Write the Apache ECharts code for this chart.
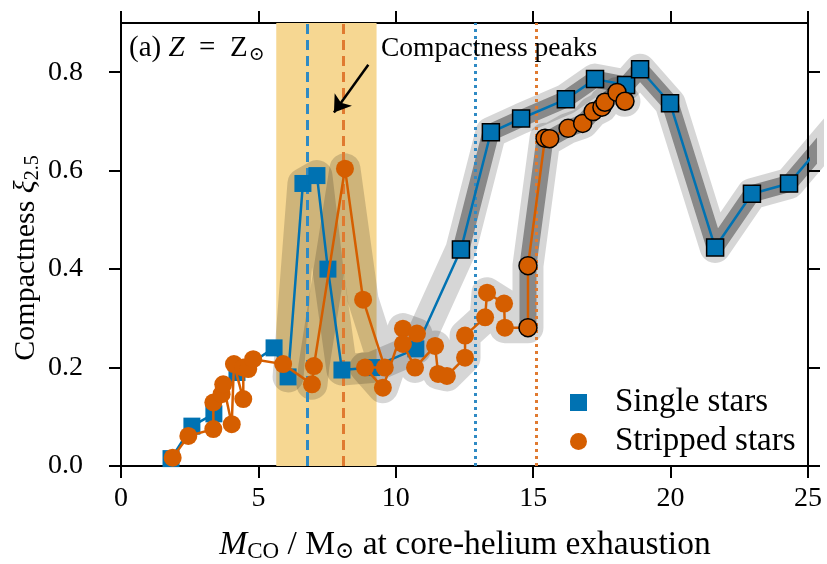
<!DOCTYPE html>
<html>
<head>
<meta charset="utf-8">
<script src="https://cdn.jsdelivr.net/npm/echarts@6/dist/echarts.min.js"></script>
<style>
html, body { margin: 0; padding: 0; background: #fff; }
#chart { width: 827px; height: 564px; }
</style>
</head>
<body>
<div id="chart"></div>
<script>
// values: CO core mass (Msun) vs compactness xi_2.5
var singleMass = [1.82, 2.58, 3.38, 4.22, 5.57, 6.08, 6.62, 7.13, 7.53, 8.04, 9.13, 10.73,
  12.37, 13.46, 14.56, 16.19, 17.25, 18.38, 18.89, 19.98, 21.62, 22.96, 24.31, 26.0]
var singleXi = [0.015, 0.081, 0.106, 0.19, 0.24, 0.181, 0.574, 0.59, 0.40, 0.195, 0.20, 0.238,
  0.44, 0.678, 0.706, 0.745, 0.786, 0.774, 0.806, 0.737, 0.444, 0.553, 0.574, 0.685]

var strippedMass = [1.88, 2.45, 3.36, 3.36, 3.66, 3.72, 4.03, 4.11, 4.45, 4.45, 4.63, 4.81,
  5.90, 6.95, 7.02, 8.15, 8.81, 9.60, 8.88, 9.53, 10.26, 10.77, 10.26, 10.70, 11.43, 11.54,
  11.86, 12.52, 12.52, 13.25, 13.32, 13.94, 13.97, 14.81, 14.81, 15.43, 15.60, 16.27, 16.80,
  17.18, 17.50, 17.61, 18.05, 18.34]
var strippedXi = [0.017, 0.061, 0.075, 0.129, 0.146, 0.166, 0.085, 0.207, 0.136, 0.200, 0.197, 0.217,
  0.207, 0.166, 0.203, 0.604, 0.338, 0.200, 0.200, 0.159, 0.279, 0.269, 0.248, 0.200, 0.244, 0.187,
  0.183, 0.220, 0.265, 0.302, 0.352, 0.330, 0.281, 0.281, 0.407, 0.666, 0.665, 0.686, 0.696,
  0.720, 0.729, 0.739, 0.759, 0.741]

var xTicks = [0, 5, 10, 15, 20, 25]
var yTicks = [0, 0.2, 0.4, 0.6, 0.8]

// shaded peak window and the vertical marker lines
var peakWindow = [5.65, 9.3]
var peakSingle = 6.78
var peakStripped = 8.1
var edgeSingle = 12.9
var edgeStripped = 15.1

// where the grey highlight bands and the black marker edges start (index into the arrays)
var singleHaloFrom = 5
var singleCoreFrom = 12
var strippedHaloFrom = 13
var strippedCoreFrom = 33

var BLUE = '#0072b2'
var ORANGE = '#d55e00'
var FONT = '"Liberation Serif", "DejaVu Serif", serif'

function pairs (xs, ys, from) {
  var out = []
  for (var i = from || 0; i < xs.length; i++) out.push([xs[i], ys[i]])
  return out
}

function points (xs, ys, edgeFrom) {
  return xs.map(function (x, i) {
    var p = { value: [x, ys[i]] }
    if (i >= edgeFrom) p.itemStyle = { borderColor: '#000', borderWidth: 1.5 }
    return p
  })
}

function band (data, width, alpha, z) {
  return {
    type: 'line', data: data, symbol: 'none', silent: true, z: z,
    lineStyle: { width: width, color: 'rgba(0,0,0,' + alpha + ')', cap: 'round', join: 'round' }
  }
}

var axisCommon = {
  type: 'value',
  axisLine: { show: true, onZero: false, lineStyle: { color: '#000', width: 2 } },
  axisTick: { show: true, inside: false, length: 12, lineStyle: { color: '#000', width: 2 } },
  splitLine: { show: false }
}

var myChart = echarts.init(document.getElementById('chart'))
var option = {
  backgroundColor: '#fff',
  animation: false,
  grid: { left: 121, right: 19, top: 23, bottom: 98 },
  xAxis: [
    Object.assign({}, axisCommon, {
      position: 'bottom', min: 0, max: 25,
      axisTick: Object.assign({}, axisCommon.axisTick, { customValues: xTicks }),
      axisLabel: { customValues: xTicks, fontSize: 28, fontFamily: FONT, color: '#000', margin: 19 }
    }),
    Object.assign({}, axisCommon, {
      position: 'top', min: 0, max: 25,
      axisTick: Object.assign({}, axisCommon.axisTick, { customValues: xTicks }),
      axisLabel: { show: false }
    })
  ],
  yAxis: [
    Object.assign({}, axisCommon, {
      position: 'left', min: 0, max: 0.9,
      axisTick: Object.assign({}, axisCommon.axisTick, { customValues: yTicks }),
      axisLabel: {
        customValues: yTicks, fontSize: 28, fontFamily: FONT, color: '#000', margin: 38,
        formatter: function (v) { return v.toFixed(1) }
      }
    }),
    Object.assign({}, axisCommon, {
      position: 'right', min: 0, max: 0.9,
      axisTick: Object.assign({}, axisCommon.axisTick, { customValues: yTicks }),
      axisLabel: { show: false }
    })
  ],
  legend: {
    orient: 'vertical', left: 565, top: 381,
    itemWidth: 17, itemHeight: 17, itemGap: 6,
    textStyle: { fontSize: 33, fontFamily: FONT, color: '#000', lineHeight: 33, padding: [0, 0, 0, 23] },
    data: [{ name: 'Single stars', icon: 'rect' }, { name: 'Stripped stars', icon: 'circle' }]
  },
  graphic: [
    {
      type: 'text', left: 129, top: 34, z: 20,
      style: {
        text: '(a) {i|Z}\u2002=\u2002Z{s|⊙}', fontSize: 29, fontFamily: FONT, fill: '#000',
        rich: { i: { fontStyle: 'italic', fontSize: 29, fontFamily: FONT }, s: { fontSize: 19, fontFamily: '"DejaVu Serif", serif', padding: [13, 0, 0, 1] } }
      }
    },
    {
      type: 'text', left: 381, top: 35, z: 20,
      style: { text: 'Compactness peaks', fontSize: 27.5, fontFamily: FONT, fill: '#000' }
    },
    {
      type: 'text', x: 465, y: 545, z: 20,
      style: {
        text: '{i|M}{s|CO} / M{s|⊙} at core-helium exhaustion', fontSize: 33.5, fontFamily: FONT, fill: '#000',
        align: 'center', verticalAlign: 'middle',
        rich: { i: { fontStyle: 'italic', fontSize: 33.5, fontFamily: FONT }, s: { fontSize: 23, fontFamily: FONT, padding: [14, 0, 0, 0] } }
      }
    },
    {
      type: 'text', x: 26, y: 258, rotation: Math.PI / 2, z: 20,
      style: {
        text: 'Compactness {i|ξ}{s|2.5}', fontSize: 30, fontFamily: FONT, fill: '#000',
        align: 'center', verticalAlign: 'middle',
        rich: { i: { fontStyle: 'italic', fontSize: 30, fontFamily: FONT }, s: { fontSize: 20, fontFamily: FONT, padding: [13, 0, 0, 0] } }
      }
    }
  ],
  series: [
    {
      type: 'line', data: [], z: 0, silent: true,
      markArea: {
        silent: true,
        itemStyle: { color: '#f6d792' },
        data: [[{ xAxis: peakWindow[0] }, { xAxis: peakWindow[1] }]]
      }
    },
    band(pairs(singleMass, singleXi, singleHaloFrom), 31, 0.16, 1),
    band(pairs(strippedMass, strippedXi, strippedHaloFrom), 31, 0.16, 1),
    band(pairs(singleMass, singleXi, singleCoreFrom), 17, 0.36, 1),
    band(pairs(strippedMass, strippedXi, strippedCoreFrom), 17, 0.36, 1),
    {
      type: 'line', data: [], z: 2, silent: true,
      markLine: {
        silent: true, symbol: 'none', label: { show: false },
        data: [
          { xAxis: peakSingle, lineStyle: { color: '#2f8ac4', width: 3, type: [10, 6] } },
          { xAxis: peakStripped, lineStyle: { color: '#e07a30', width: 3, type: [10, 6] } },
          { xAxis: edgeSingle, lineStyle: { color: '#2f8ac4', width: 3, type: [3, 4] } },
          { xAxis: edgeStripped, lineStyle: { color: '#e07a30', width: 3, type: [3, 4] } },
          [
            { coord: [9.0, 0.815], symbol: 'none', lineStyle: { color: '#000', width: 2.5, type: 'solid' } },
            { coord: [7.75, 0.718], symbol: 'arrow', symbolSize: 16 }
          ]
        ]
      }
    },
    {
      name: 'Single stars', type: 'line', z: 5,
      data: points(singleMass, singleXi, singleCoreFrom),
      symbol: 'rect', symbolSize: 17, showSymbol: true,
      lineStyle: { color: BLUE, width: 2.5 },
      itemStyle: { color: BLUE }
    },
    {
      name: 'Stripped stars', type: 'line', z: 6,
      data: points(strippedMass, strippedXi, strippedCoreFrom),
      symbol: 'circle', symbolSize: 18, showSymbol: true,
      lineStyle: { color: ORANGE, width: 2.5 },
      itemStyle: { color: ORANGE }
    }
  ]
}
myChart.setOption(option, true)
</script>
</body>
</html>
